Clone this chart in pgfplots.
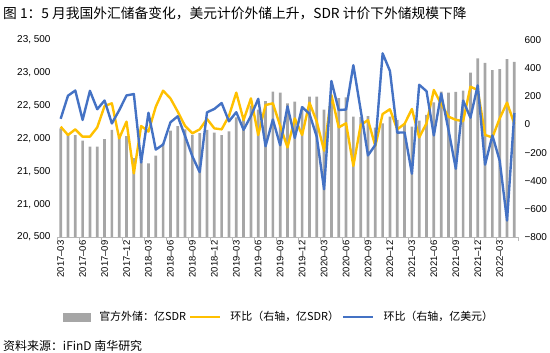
\documentclass[border=0pt]{standalone}
\usepackage{pgfplots}
\usepackage{pgfplotstable}
\pgfplotsset{compat=1.18}
\usepackage{fontspec}
\setmainfont{Liberation Sans}
\newfontfamily\cjk{Noto Sans CJK SC}
\definecolor{barg}{HTML}{A6A6A6}
\definecolor{lyel}{HTML}{FFC000}
\definecolor{lblu}{HTML}{4472C4}

\pgfplotstableread{
i bar sdr usd
0 22155 -16 40
1 22050 -75 204
2 22053 -35 241
3 21967 -87 32
4 21876 -87 239
5 21876 -21 108
6 21992 131 170
7 22130 150 7
8 22028 -99 101
9 22038 20 206
10 21700 -348 216
11 21650 -11 -270
12 21622 -51 83
13 21740 126 -179
14 21930 240 -143
15 22120 185 15
16 22190 91 58
17 22140 -11 -82
18 22055 -63 -227
19 22080 -35 -339
20 22130 39 86
21 22090 -28 110
22 22050 -35 152
23 22110 60 22
24 22320 226 87
25 22340 31 -38
26 22500 185 60
27 22440 -75 182
28 22571 138 -155
29 22713 150 35
30 22698 -10 -148
31 22535 -163 128
32 22560 43 -96
33 22490 -75 123
34 22637 155 76
35 22637 20 -88
36 22440 -187 -461
37 22650 209 309
38 22615 -21 102
39 22627 8 106
40 22333 -295 421
41 22325 -4 102
42 22340 31 -220
43 22165 -153 -146
44 22231 74 505
45 22333 108 380
46 22282 -35 -58
47 22231 4 -57
48 22180 110 -350
49 22271 -92 282
50 22358 8 236
51 22550 245 -78
52 22713 145 219
53 22698 55 -38
54 22710 33 -315
55 22730 23 170
56 23003 268 48
57 23221 245 278
58 23150 -75 -286
59 23043 -92 -78
60 23055 43 -258
61 23208 155 -683
62 23165 4 81
}\datatable

\begin{document}
\begin{tikzpicture}
\useasboundingbox (-57bp,-116bp) rectangle (493bp,237bp);
\begin{axis}[
  at={(0,0)}, anchor=south west,
  width=461bp, height=197bp, scale only axis,
  xmin=-0.5, xmax=62.5, ymin=20500, ymax=23500,
  scaled y ticks=false,
  axis x line*=bottom, axis y line*=left,
  y axis line style={draw=none},
  x axis line style={draw=black!28, line width=0.8bp, -},
  ytick={20500,21000,...,23500},
  yticklabels={{20, 500},{21, 000},{21, 500},{22, 000},{22, 500},{23, 000},{23, 500}},
  yticklabel style={font=\fontsize{10}{12}\selectfont, xshift=-3bp},
  xtick={0,3,...,60},
  xticklabels={2017–03,2017–06,2017–09,2017–12,2018–03,2018–06,2018–09,2018–12,2019–03,2019–06,2019–09,2019–12,2020–03,2020–06,2020–09,2020–12,2021–03,2021–06,2021–09,2021–12,2022–03},
  xticklabel style={rotate=90, anchor=east, font=\fontsize{9.5}{11}\selectfont},
  major tick length=0pt,
  extra x ticks={-0.5,2.5,...,62.5},
  extra x tick labels={},
  extra x tick style={major tick length=4bp, tick align=outside, tick style={draw=black!28, line width=0.8bp}},
  clip=false,
]
\addplot[ybar, bar width=2.7bp, fill=barg, draw=none] table[x=i, y=bar] {\datatable};
\end{axis}
\begin{axis}[
  at={(0,0)}, anchor=south west,
  width=461bp, height=197bp, scale only axis,
  xmin=-0.5, xmax=62.5, ymin=-800, ymax=600,
  scaled y ticks=false,
  axis x line=none, axis y line*=right,
  y axis line style={draw=none},
  ytick={-800,-600,...,600},
  yticklabels={−800,−600,−400,−200,0,200,400,600},
  yticklabel style={font=\fontsize{10}{12}\selectfont, xshift=3bp},
  major tick length=0pt,
  legend columns=3,
  legend style={at={(axis description cs:0.4816,-0.405)}, anchor=center, draw=none, fill=none,
    font=\cjk\fontsize{11}{13}\selectfont, inner sep=0pt,
    /tikz/every even column/.append style={column sep=1bp},
    /tikz/every odd column/.append style={column sep=7bp}},
  legend image code/.code={\draw[#1] (0bp,0bp) -- (30bp,0bp);},
]
\addlegendimage{legend image code/.code={\fill[barg] (0bp,-4bp) rectangle (27bp,4bp);}}
\addlegendentry{官方外储：亿SDR}
\addplot[lyel, line width=2.4bp, line join=round] table[x=i, y=sdr] {\datatable};
\addlegendentry{环比（右轴，亿SDR）}
\addplot[lblu, line width=2.4bp, line join=round] table[x=i, y=usd] {\datatable};
\addlegendentry{环比（右轴，亿美元）}
\end{axis}
\node[anchor=west, inner sep=0pt, font=\cjk\fontsize{13.8}{16}\selectfont] at (-54bp,224bp) {图 1：5 月我国外汇储备变化，美元计价外储上升，SDR 计价下外储规模下降};
\node[anchor=west, inner sep=0pt, font=\cjk\fontsize{12}{14}\selectfont] at (-54bp,-109bp) {资料来源：iFinD 南华研究};
\end{tikzpicture}
\end{document}
